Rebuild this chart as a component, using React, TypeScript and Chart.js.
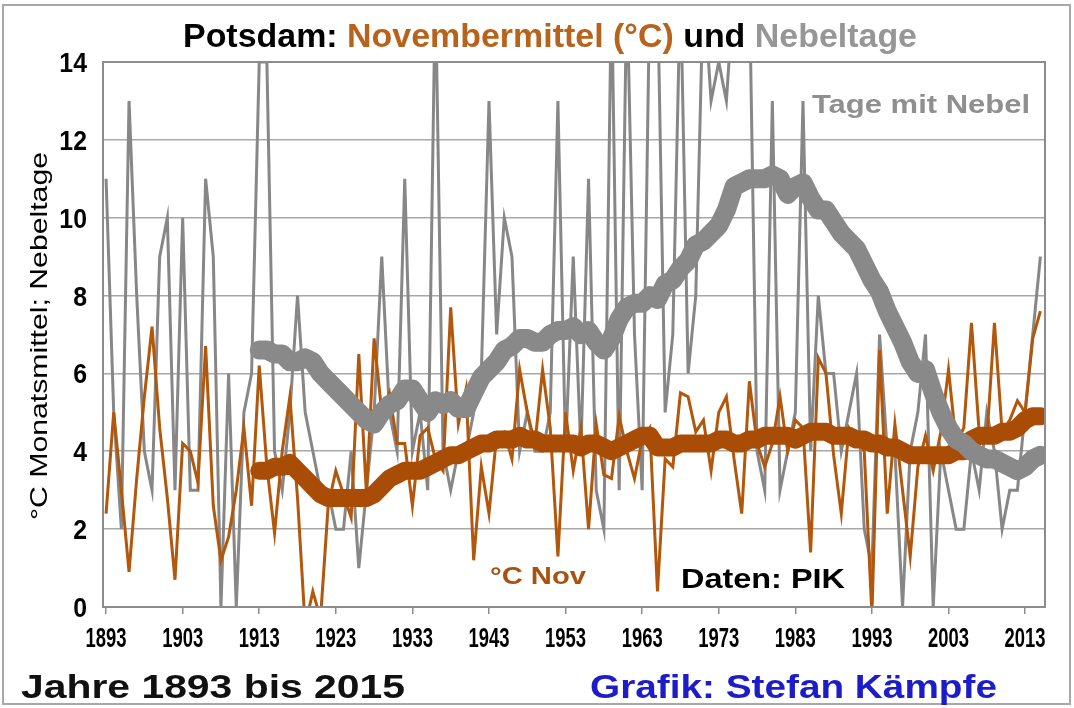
import React, { useEffect, useRef } from "react";
import { Chart, registerables } from "chart.js";

Chart.register(...registerables);

// ---------- data ----------
const FIRST_YEAR = 1893;
const TREND_FIRST_YEAR = 1913;

// Tage mit Nebel im November (Potsdam), 1893..2015
const fogDays = [
  11, 5, 2, 13, 8, 4, 3, 9, 10, 3,
  10, 3, 3, 11, 9, 0, 6, 0, 5, 6,
  14, 14, 4, 3, 5, 8, 5, 4, 3, 3,
  2, 2, 4, 1, 3, 5, 9, 5, 4, 11,
  4, 5, 3, 16, 4, 3, 4, 4, 5, 6,
  13, 7, 10, 9, 4, 5, 4, 4, 5, 13,
  4, 9, 4, 11, 3, 2, 16, 3, 16, 7,
  3, 16, 16, 5, 7, 16, 6, 8, 16, 13,
  14, 13, 16, 16, 16, 4, 3, 13, 3, 4,
  5, 13, 4, 8, 6, 6, 4, 5, 6, 2,
  1, 7, 4, 4, 0, 4, 5, 7, 0, 4,
  3, 2, 2, 4, 3, 5, 4, 2, 3, 3,
  5, 7, 9,
];

// Novembermittel (°C), 1893..2015
const novTemp = [
  2.4, 5.0, 3.0, 0.9, 3.3, 5.4, 7.2, 4.6, 2.8, 0.7,
  4.2, 4.0, 3.2, 6.7, 2.6, 1.2, 1.8, 3.0, 4.6, 2.6,
  6.2, 3.6, 1.9, 4.0, 5.4, 2.8, -0.5, 0.4, -0.3, 2.6,
  3.5, 2.9, 2.3, 6.5, 2.9, 6.9, 5.0, 5.5, 4.2, 4.2,
  2.6, 4.4, 4.6, 3.8, 3.5, 7.7, 4.7, 5.6, 1.2, 3.6,
  2.4, 4.4, 4.5, 3.8, 6.1, 5.0, 4.2, 6.1, 4.6, 1.3,
  5.0, 3.5, 4.6, 2.0, 4.7, 3.4, 3.3, 4.9, 4.0, 3.3,
  4.3, 4.6, 0.4, 3.8, 3.6, 5.5, 5.4, 4.5, 4.8, 3.5,
  5.0, 5.4, 3.8, 2.4, 5.8, 4.2, 3.6, 4.2, 5.4, 4.0,
  4.8, 4.6, 1.4, 6.4, 6.0, 3.9, 2.4, 4.6, 4.3, 4.0,
  -0.2, 6.6, 2.4, 4.7, 3.0, 1.3, 3.6, 4.4, 3.5, 4.5,
  6.1, 4.2, 4.6, 7.3, 4.5, 4.3, 7.3, 4.5, 4.8, 5.3,
  5.0, 6.9, 7.6,
];

// geglättete Nebeltage (dicke graue Linie), 1913..2015
const fogTrend = [
  6.6, 6.6, 6.5, 6.5, 6.3, 6.3, 6.4, 6.3, 6.0, 5.8,
  5.6, 5.4, 5.2, 5.0, 4.8, 4.7, 5.0, 5.2, 5.3, 5.6,
  5.6, 5.3, 5.0, 5.3, 5.2, 5.3, 5.1, 5.1, 5.5, 5.9,
  6.1, 6.3, 6.6, 6.7, 6.9, 6.9, 6.8, 6.8, 7.0, 7.1,
  7.1, 7.2, 7.0, 7.1, 6.8, 6.6, 6.9, 7.4, 7.7, 7.8,
  7.8, 8.0, 7.9, 8.3, 8.4, 8.7, 8.9, 9.3, 9.4, 9.6,
  9.8, 10.2, 10.8, 10.9, 11.0, 11.0, 11.0, 11.1, 11.0, 10.6,
  10.8, 10.9, 10.5, 10.2, 10.2, 9.9, 9.6, 9.4, 9.2, 8.8,
  8.4, 8.1, 7.6, 7.2, 6.8, 6.3, 6.0, 6.1, 5.5, 5.0,
  4.6, 4.3, 4.2, 4.0, 3.9, 3.8, 3.8, 3.7, 3.6, 3.5,
  3.6, 3.8, 3.9,
];

// geglättetes Novembermittel (dicke braune Linie), 1913..2015
const tempTrend = [
  3.5, 3.5, 3.6, 3.6, 3.7, 3.5, 3.3, 3.1, 2.9, 2.8,
  2.8, 2.8, 2.8, 2.8, 2.8, 2.9, 3.1, 3.3, 3.4, 3.5,
  3.5, 3.5, 3.6, 3.7, 3.8, 3.9, 3.9, 4.0, 4.1, 4.2,
  4.2, 4.3, 4.3, 4.3, 4.4, 4.3, 4.3, 4.2, 4.2, 4.2,
  4.2, 4.2, 4.1, 4.2, 4.2, 4.1, 4.0, 4.1, 4.2, 4.3,
  4.4, 4.4, 4.1, 4.1, 4.1, 4.2, 4.2, 4.2, 4.2, 4.2,
  4.3, 4.3, 4.2, 4.2, 4.3, 4.3, 4.4, 4.4, 4.4, 4.4,
  4.3, 4.4, 4.5, 4.5, 4.5, 4.4, 4.4, 4.4, 4.3, 4.3,
  4.2, 4.2, 4.1, 4.1, 4.0, 3.9, 3.9, 3.9, 3.9, 3.9,
  3.9, 4.0, 4.0, 4.3, 4.4, 4.4, 4.4, 4.5, 4.5, 4.6,
  4.8, 4.9, 4.9,
];

const xTickYears = [1893, 1903, 1913, 1923, 1933, 1943, 1953, 1963, 1973, 1983, 1993, 2003, 2013];
const yTickValues = [0, 2, 4, 6, 8, 10, 12, 14];

const FONT = '"Liberation Sans", Arial, Helvetica, sans-serif';

function toPoints(first: number, values: number[]) {
  return values.map((v, i) => ({ x: first + i, y: v }));
}

function drawScaled(
  ctx: CanvasRenderingContext2D,
  text: string,
  x: number,
  y: number,
  size: number,
  weight: string,
  color: string,
  align: CanvasTextAlign,
  sx: number
) {
  ctx.save();
  ctx.font = `${weight} ${size}px ${FONT}`;
  ctx.translate(x, y);
  ctx.scale(sx, 1);
  ctx.textAlign = align;
  ctx.textBaseline = "alphabetic";
  ctx.fillStyle = color;
  ctx.fillText(text, 0, 0);
  ctx.restore();
}

function drawFitted(
  ctx: CanvasRenderingContext2D,
  text: string,
  left: number,
  baseline: number,
  size: number,
  width: number,
  weight: string,
  color: string
) {
  ctx.save();
  ctx.font = `${weight} ${size}px ${FONT}`;
  const w = ctx.measureText(text).width;
  ctx.restore();
  drawScaled(ctx, text, left, baseline, size, weight, color, "left", width / w);
}

const overlayPlugin = {
  id: "overlay",
  afterDraw(chart: any) {
    const ctx: CanvasRenderingContext2D = chart.ctx;
    const a = chart.chartArea;
    const xs = chart.scales.x;
    const ys = chart.scales.y;
    ctx.save();

    // plot frame
    ctx.strokeStyle = "#8c8c8c";
    ctx.lineWidth = 2;
    ctx.strokeRect(a.left, a.top, a.right - a.left, a.bottom - a.top);

    // outer border of the picture
    ctx.strokeStyle = "#a8a8a8";
    ctx.lineWidth = 2;
    ctx.strokeRect(3, 5, 1067, 699);

    // x tick labels
    ctx.font = `bold 27px ${FONT}`;
    const wx = ctx.measureText("1893").width;
    xs.ticks.forEach((t: any) => {
      drawScaled(ctx, String(t.value), xs.getPixelForValue(t.value), 647, 27, "bold", "#000", "center", 41 / wx);
    });

    // y tick labels
    ys.ticks.forEach((t: any) => {
      drawScaled(ctx, String(t.value), 87, ys.getPixelForValue(t.value) + 10, 27, "bold", "#000", "right", 0.92);
    });

    // y axis title
    ctx.save();
    ctx.font = `normal 24px ${FONT}`;
    const yt = "°C Monatsmittel; Nebeltage";
    const ytw = ctx.measureText(yt).width;
    ctx.translate(47, 336);
    ctx.rotate(-Math.PI / 2);
    ctx.scale(368 / ytw, 1);
    ctx.textAlign = "center";
    ctx.textBaseline = "alphabetic";
    ctx.fillStyle = "#000";
    ctx.fillText(yt, 0, 0);
    ctx.restore();

    // title with coloured parts
    const parts: [string, string][] = [
      ["Potsdam: ", "#000000"],
      ["Novembermittel (°C)", "#b8631c"],
      [" und ", "#000000"],
      ["Nebeltage", "#969696"],
    ];
    ctx.font = `bold 33px ${FONT}`;
    const total = parts.reduce((s, p) => s + ctx.measureText(p[0]).width, 0);
    const tsx = 734 / total;
    let cx = 183;
    parts.forEach(([txt, col]) => {
      ctx.font = `bold 33px ${FONT}`;
      const w = ctx.measureText(txt).width;
      drawScaled(ctx, txt, cx, 47, 33, "bold", col, "left", tsx);
      cx += w * tsx;
    });

    // annotations
    drawFitted(ctx, "Tage mit Nebel", 812, 113, 26, 218, "bold", "#8f8f8f");
    drawFitted(ctx, "°C Nov", 490, 584, 24, 96, "bold", "#a9520f");
    drawFitted(ctx, "Daten: PIK", 681, 588, 28, 164, "bold", "#000000");
    drawFitted(ctx, "Jahre 1893 bis 2015", 21, 698, 33, 384, "bold", "#111111");
    drawFitted(ctx, "Grafik: Stefan Kämpfe", 590, 698, 33, 407, "bold", "#1c1cc8");

    ctx.restore();
  },
};

export default function App() {
  const canvasRef = useRef<HTMLCanvasElement | null>(null);

  useEffect(() => {
    const canvas = canvasRef.current;
    if (!canvas) return;
    const chart = new Chart(canvas, {
      type: "line",
      data: {
        datasets: [
          {
            label: "Nebeltage",
            data: toPoints(FIRST_YEAR, fogDays),
            borderColor: "#878787",
            borderWidth: 3,
            pointRadius: 0,
            tension: 0,
            clip: 0,
            order: 4,
          },
          {
            label: "°C Nov",
            data: toPoints(FIRST_YEAR, novTemp),
            borderColor: "#b2570c",
            borderWidth: 3,
            pointRadius: 0,
            tension: 0,
            clip: 0,
            order: 3,
          },
          {
            label: "Trend °C",
            data: toPoints(TREND_FIRST_YEAR, tempTrend),
            borderColor: "#a94c05",
            borderWidth: 18,
            borderJoinStyle: "round",
            borderCapStyle: "round",
            pointRadius: 0,
            tension: 0,
            order: 2,
          },
          {
            label: "Trend Nebel",
            data: toPoints(TREND_FIRST_YEAR, fogTrend),
            borderColor: "#898989",
            borderWidth: 19,
            borderJoinStyle: "round",
            borderCapStyle: "round",
            pointRadius: 0,
            tension: 0,
            order: 1,
          },
        ],
      },
      options: {
        responsive: false,
        animation: false,
        events: [],
        layout: { padding: { top: 62, right: 29, left: 0, bottom: 0 } },
        plugins: {
          legend: { display: false },
          tooltip: { enabled: false },
          title: { display: false },
        },
        scales: {
          x: {
            type: "linear",
            min: 1892.6,
            max: 2015.6,
            afterBuildTicks: (s: any) => {
              s.ticks = xTickYears.map((v) => ({ value: v }));
            },
            afterFit: (s: any) => {
              s.height = 101;
            },
            ticks: { display: false },
            grid: {
              drawOnChartArea: false,
              drawTicks: true,
              tickLength: 7,
              color: "#8c8c8c",
              lineWidth: 1.5,
            },
            border: { display: true, color: "#8c8c8c", width: 2 },
          },
          y: {
            type: "linear",
            min: 0,
            max: 14,
            afterBuildTicks: (s: any) => {
              s.ticks = yTickValues.map((v) => ({ value: v }));
            },
            afterFit: (s: any) => {
              s.width = 103;
            },
            ticks: { display: false },
            grid: { color: "#a8a8a8", lineWidth: 1.6, drawTicks: false },
            border: { display: true, color: "#8c8c8c", width: 2 },
          },
        },
      },
      plugins: [overlayPlugin],
    } as any);
    return () => chart.destroy();
  }, []);

  return (
    <div style={{ position: "absolute", left: 0, top: 0, width: 1074, height: 708, background: "#fff" }}>
      <canvas ref={canvasRef} width={1074} height={708} style={{ display: "block" }} />
    </div>
  );
}
